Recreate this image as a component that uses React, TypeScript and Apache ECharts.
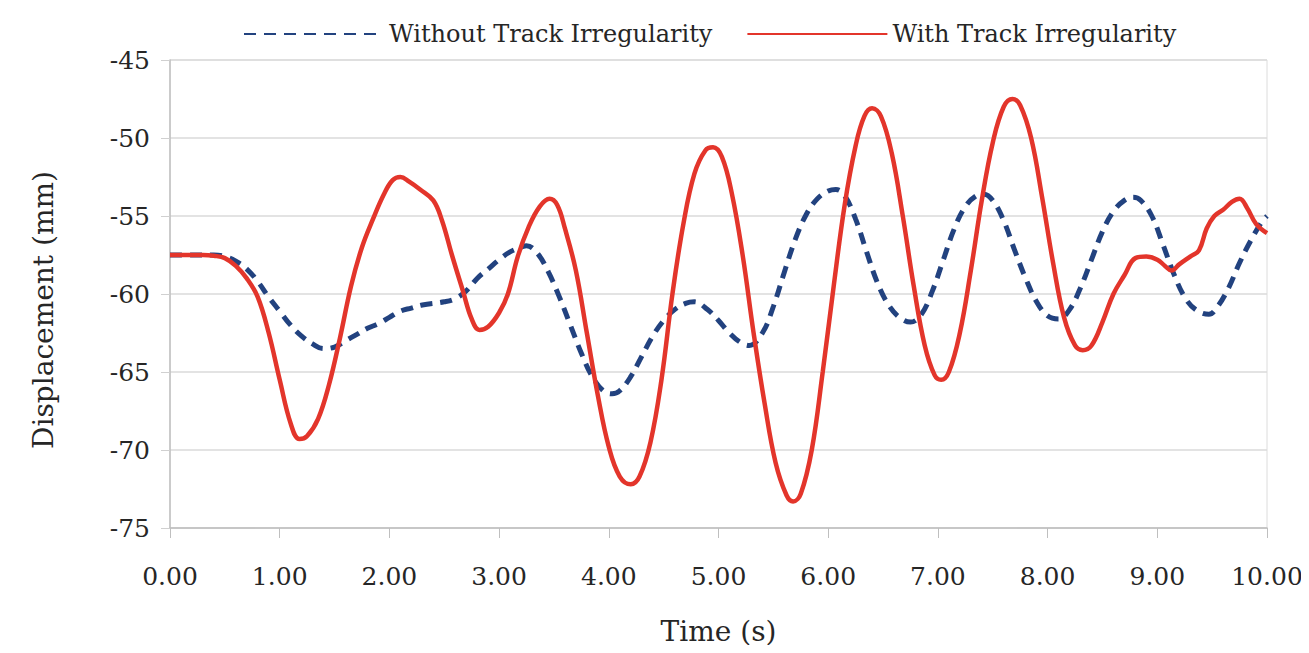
import React, { useEffect, useRef } from "react";
import * as echarts from "echarts";

const seriesNames = ["Without Track Irregularity", "With Track Irregularity"];

const withoutT = [0, 0.2, 0.4, 0.5, 0.6, 0.7, 0.8, 0.9, 1.0, 1.1, 1.2, 1.3, 1.4, 1.5, 1.6, 1.7, 1.8, 1.9, 2.0, 2.1, 2.2, 2.3, 2.5, 2.6, 2.7, 2.8, 2.9, 3.0, 3.1, 3.2, 3.25, 3.35, 3.45, 3.55, 3.65, 3.75, 3.85, 3.95, 4.03, 4.1, 4.2, 4.3, 4.4, 4.5, 4.6, 4.7, 4.78, 4.9, 5.0, 5.1, 5.2, 5.28, 5.4, 5.5, 5.6, 5.7, 5.8, 5.9, 6.0, 6.07, 6.15, 6.25, 6.35, 6.45, 6.55, 6.65, 6.75, 6.85, 6.95, 7.05, 7.15, 7.25, 7.35, 7.42, 7.5, 7.6, 7.7, 7.8, 7.9, 8.0, 8.1, 8.2, 8.3, 8.4, 8.5, 8.6, 8.7, 8.78, 8.85, 8.95, 9.05, 9.15, 9.25, 9.35, 9.47, 9.55, 9.65, 9.75, 9.85, 9.95, 10.0];
const withoutY = [-57.5, -57.5, -57.5, -57.6, -57.9, -58.4, -59.2, -60.2, -61.1, -62.0, -62.7, -63.2, -63.5, -63.4, -63.0, -62.6, -62.2, -61.9, -61.5, -61.1, -60.9, -60.7, -60.5, -60.3, -59.8, -59.0, -58.4, -57.8, -57.3, -57.0, -56.9, -57.4, -58.6, -60.2, -62.0, -63.8, -65.3, -66.2, -66.4, -66.2, -65.3, -64.0, -62.7, -61.7, -61.0, -60.6, -60.5, -61.0, -61.7, -62.5, -63.1, -63.3, -62.5, -60.8, -58.6, -56.5, -54.9, -53.9, -53.4, -53.3, -53.7, -55.2, -57.3, -59.3, -60.7, -61.5, -61.8, -61.3, -59.8, -57.8, -55.8, -54.4, -53.7, -53.6, -54.0, -55.3, -57.2, -59.0, -60.5, -61.4, -61.6, -61.0, -59.6, -57.8, -56.0, -54.7, -54.0, -53.8, -54.0, -55.0, -56.8, -58.7, -60.2, -61.0, -61.3, -60.8, -59.6, -58.0, -56.6, -55.4, -55.0];

const withT = [0, 0.1, 0.2, 0.3, 0.4, 0.5, 0.6, 0.7, 0.8, 0.9, 1.0, 1.1, 1.18, 1.25, 1.35, 1.45, 1.55, 1.65, 1.75, 1.85, 1.95, 2.03, 2.1, 2.18, 2.28, 2.4, 2.48, 2.57, 2.67, 2.75, 2.82, 2.9, 3.0, 3.08, 3.17, 3.27, 3.37, 3.46, 3.53, 3.6, 3.7, 3.8, 3.9, 4.0, 4.1, 4.2, 4.28, 4.38, 4.48, 4.58, 4.68, 4.78, 4.88, 4.95, 5.03, 5.12, 5.22, 5.32, 5.42, 5.52, 5.62, 5.68, 5.75, 5.85, 5.95, 6.05, 6.15, 6.25, 6.33, 6.4, 6.48, 6.58, 6.68, 6.78, 6.88, 6.97, 7.03, 7.1, 7.2, 7.3, 7.4, 7.5, 7.6, 7.68, 7.75, 7.85, 7.95, 8.05, 8.15, 8.25, 8.32, 8.4, 8.5, 8.6, 8.7, 8.8, 8.9, 9.0, 9.07, 9.13, 9.2, 9.3, 9.38, 9.45, 9.52, 9.6, 9.68, 9.75, 9.82, 9.9, 10.0];
const withY = [-57.5, -57.5, -57.5, -57.5, -57.55, -57.7, -58.2, -59.0, -60.2, -62.5, -65.5, -68.3, -69.3, -69.1, -68.0, -65.8, -62.8, -59.5, -57.0, -55.2, -53.6, -52.7, -52.5, -52.8, -53.3, -54.0, -55.3, -57.5, -59.8, -61.6, -62.3, -62.1, -61.2, -60.0, -57.6, -55.7, -54.4, -53.9, -54.3, -55.8, -58.5, -62.5, -66.5, -69.8, -71.7, -72.2, -71.7, -69.5, -65.5, -60.0, -55.5, -52.3, -50.8, -50.6, -51.2, -53.5, -57.5, -62.5, -67.0, -70.8, -72.9, -73.3, -72.8, -70.0, -65.0, -59.5, -54.3, -50.5, -48.6, -48.1, -48.6, -51.0, -55.0, -59.5, -63.3, -65.2, -65.5, -65.0, -62.5, -58.5, -54.0, -50.3, -48.0, -47.5, -47.9, -50.0, -53.8, -58.0, -61.5, -63.3, -63.6, -63.3, -61.8, -60.0, -58.8, -57.7, -57.6, -57.8, -58.2, -58.5, -58.1, -57.6, -57.2, -55.8, -55.0, -54.6, -54.1, -53.9, -54.5, -55.5, -56.1];

const yMin = -75;
const yMax = -45;
const yStep = 5;
const xMin = 0;
const xMax = 10;
const xStep = 1;

const FONT = "DejaVu Serif";
const TEXT = "#262626";

export default function App() {
  const ref = useRef<HTMLDivElement>(null);
  useEffect(() => {
    if (!ref.current) return;
    const chart = echarts.init(ref.current, null, { renderer: "svg" });
    chart.setOption({
      animation: false,
      backgroundColor: "#ffffff",
      textStyle: { fontFamily: FONT },
      legend: {
        top: 17,
        left: 238,
        itemWidth: 140,
        itemHeight: 16,
        itemGap: 34,
        itemStyle: { opacity: 0 },
        textStyle: { fontFamily: FONT, fontSize: 24, color: TEXT },
        data: seriesNames,
      },
      grid: {
        left: 170,
        right: 42,
        top: 60,
        bottom: 125,
        show: true,
        borderColor: "#dcdcdc",
        borderWidth: 1,
      },
      xAxis: {
        type: "value",
        min: xMin,
        max: xMax,
        interval: xStep,
        name: "Time (s)",
        nameLocation: "middle",
        nameGap: 89,
        nameTextStyle: { fontFamily: FONT, fontSize: 28, color: TEXT },
        axisLine: { show: true, lineStyle: { color: "#bfbfbf", width: 1.5 } },
        axisTick: { show: true, length: 10, lineStyle: { color: "#bfbfbf" } },
        axisLabel: {
          fontFamily: FONT,
          fontSize: 25,
          color: TEXT,
          margin: 36,
          formatter: (v: number) => v.toFixed(2),
        },
        splitLine: { show: false },
      },
      yAxis: {
        type: "value",
        min: yMin,
        max: yMax,
        interval: yStep,
        name: "Displacement (mm)",
        nameLocation: "middle",
        nameGap: 113,
        nameTextStyle: { fontFamily: FONT, fontSize: 28, color: TEXT, padding: [0, 32, 0, 0] },
        axisLine: { show: true, lineStyle: { color: "#bfbfbf", width: 1.5 } },
        axisTick: { show: true, length: 9, lineStyle: { color: "#d0d0d0" } },
        axisLabel: { fontFamily: FONT, fontSize: 25, color: TEXT, margin: 20 },
        splitLine: { show: true, lineStyle: { color: "#dadada", width: 1.5 } },
      },
      series: [
        {
          name: seriesNames[0],
          type: "line",
          data: withoutT.map((t, i) => [t, withoutY[i]]),
          smooth: 0.4,
          symbol: "none",
          lineStyle: { color: "#22427f", width: 5, type: [12, 8] },
          itemStyle: { color: "#22427f" },
          z: 2,
        },
        {
          name: seriesNames[1],
          type: "line",
          data: withT.map((t, i) => [t, withY[i]]),
          smooth: 0.4,
          symbol: "none",
          lineStyle: { color: "#e3352b", width: 4.5 },
          itemStyle: { color: "#e3352b" },
          z: 3,
        },
      ],
    });
    return () => chart.dispose();
  }, []);
  return <div ref={ref} style={{ width: 1309, height: 653, margin: -8 }} />;
}
